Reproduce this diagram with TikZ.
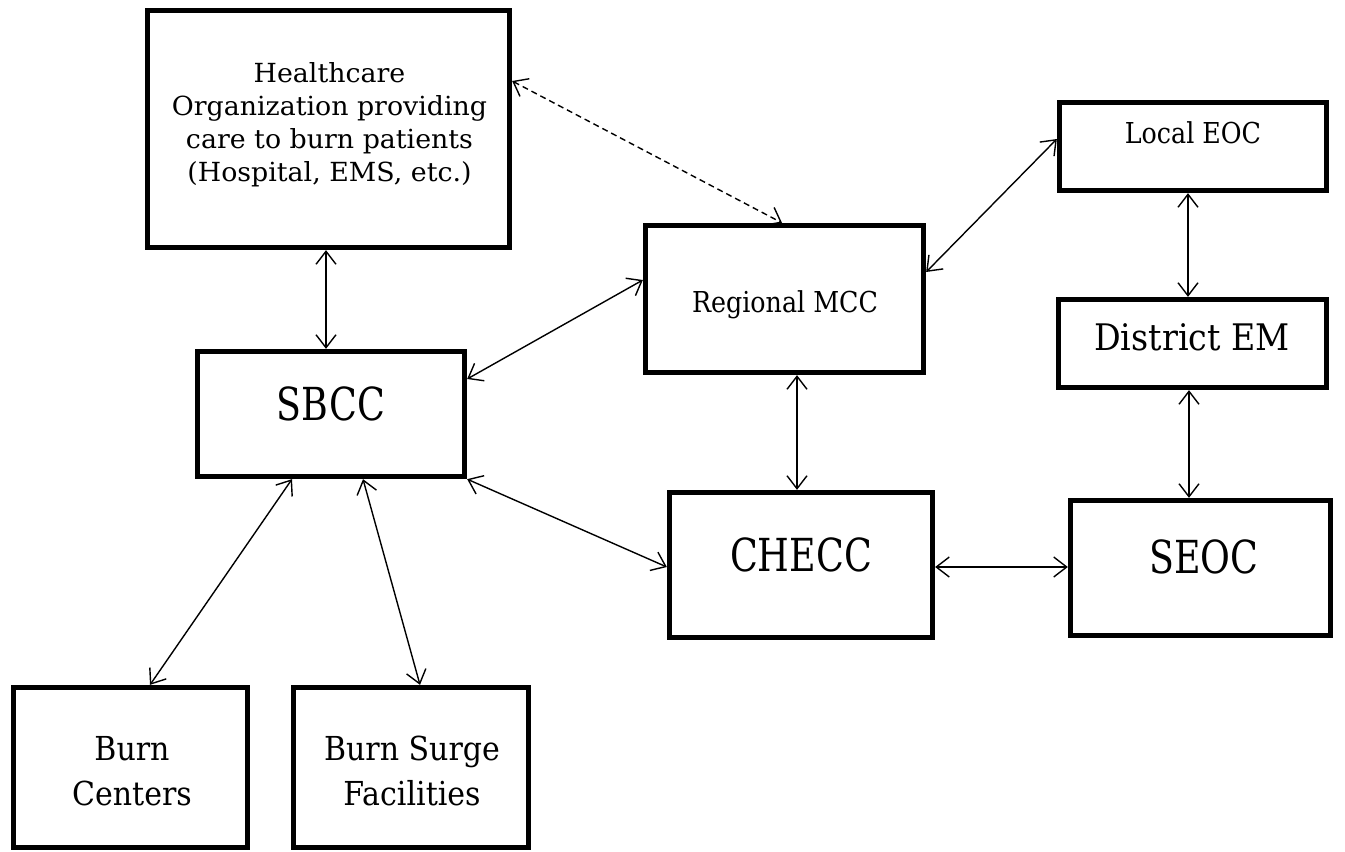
\documentclass[tikz,border=0pt]{standalone}
\usepackage{fontspec}
\setmainfont{DejaVu Serif}
\newfontfamily\fA[FakeStretch=0.80]{DejaVu Serif}
\newfontfamily\fB[FakeStretch=0.88]{DejaVu Serif}
\newfontfamily\fC[FakeStretch=1.02]{DejaVu Serif}
\newfontfamily\fD[FakeStretch=0.91]{DejaVu Serif}
\usetikzlibrary{arrows.meta}
\begin{document}
\begin{tikzpicture}[x=1pt,y=-1pt,
  box/.style={draw, line width=4.8pt, rectangle, inner sep=0pt},
  lbl/.style={inner sep=0pt, align=center},
  bigfont/.style={font=\fA\fontsize{45.5}{50}\selectfont},
  midfont/.style={font=\fB\fontsize{28.8}{33}\selectfont},
  biarrow/.style={{Straight Barb[length=13pt,width=20pt]}-{Straight Barb[length=13pt,width=20pt]}, line width=1.4pt},
  dasharrow/.style={biarrow, dash pattern=on 6pt off 4pt}]
\fill[white] (0,0) rectangle (1345,852);
\useasboundingbox (0,0) rectangle (1345,852);

% boxes
\node[box, minimum width=362.5pt, minimum height=237.5pt] (hc) at (328.5,129) {};
\node[box, minimum width=267.5pt, minimum height=125.5pt] (sbcc) at (331,414) {};
\node[box, minimum width=278.5pt, minimum height=147.5pt] (mcc) at (784.5,299) {};
\node[box, minimum width=267.5pt, minimum height=88.5pt] (leoc) at (1193,146.5) {};
\node[box, minimum width=268.5pt, minimum height=88.5pt] (dem) at (1192.5,343.5) {};
\node[box, minimum width=263.5pt, minimum height=145.5pt] (checc) at (801,565) {};
\node[box, minimum width=260.5pt, minimum height=135.5pt] (seoc) at (1200.5,568) {};
\node[box, minimum width=234.5pt, minimum height=160.5pt] (bc) at (130.5,767.5) {};
\node[box, minimum width=235.5pt, minimum height=160.5pt] (bsf) at (411,767.5) {};

% labels
\node[lbl, font=\fC\fontsize{26.3}{33}\selectfont] (hct) at (329.5,124.5)
  {Healthcare\\Organization providing\\care to burn patients\\(Hospital, EMS, etc.)};
\node[lbl, bigfont, anchor=base] (sbcct) at (331,420) {SBCC};
\node[lbl, bigfont, anchor=base] (checct) at (801,571) {CHECC};
\node[lbl, bigfont, anchor=base] (seoct) at (1204,573) {SEOC};
\node[lbl, midfont, anchor=base] (mcct) at (785,312) {Regional MCC};
\node[lbl, midfont, anchor=base] (leoct) at (1193,143) {Local EOC};
\node[lbl, font=\fD\fontsize{36.6}{40}\selectfont, anchor=base] (demt) at (1192,350) {District EM};
\node[lbl, font=\fD\fontsize{33}{45.6}\selectfont] (bct) at (132,771) {Burn\\Centers};
\node[lbl, font=\fD\fontsize{33}{45.6}\selectfont] (bsft) at (412,771) {Burn Surge\\Facilities};

% connectors
\draw[biarrow] ([xshift=-2.5pt]hc.south) -- ([xshift=-5pt]sbcc.north);
\draw[dasharrow] ([yshift=48pt]hc.east) -- ([xshift=-2.5pt]mcc.north);
\draw[biarrow] ([yshift=35pt]sbcc.east) -- ([yshift=19pt]mcc.west);
\draw[biarrow] ([yshift=27pt]mcc.east) -- ([yshift=7.5pt]leoc.west);
\draw[biarrow] ([xshift=-5pt]leoc.south) -- ([xshift=-4.5pt]dem.north);
\draw[biarrow] ([xshift=-3.5pt]dem.south) -- ([xshift=-11.5pt]seoc.north);
\draw[biarrow] ([xshift=12.5pt]mcc.south) -- ([xshift=-4pt]checc.north);
\draw[biarrow] ([yshift=-2pt]checc.east) -- ([yshift=1pt]seoc.west);
\draw[biarrow] (sbcc.south east) -- ([yshift=-2pt]checc.west);
\draw[biarrow] ([xshift=-39pt]sbcc.south) -- ([xshift=19.5pt]bc.north);
\draw[biarrow] ([xshift=32pt]sbcc.south) -- ([xshift=9pt]bsf.north);
\end{tikzpicture}
\end{document}
